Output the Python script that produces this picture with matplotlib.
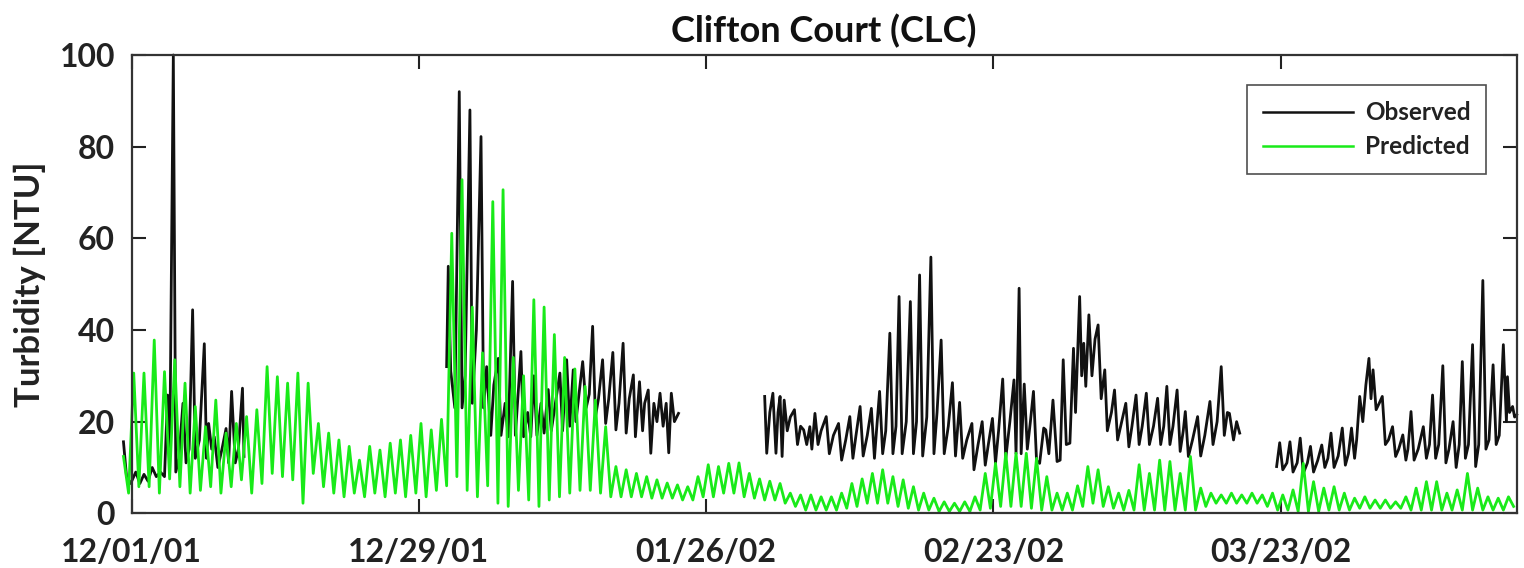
import numpy as np
import pandas as pd
import matplotlib
matplotlib.use("Agg")
import matplotlib.pyplot as plt
import matplotlib.dates as mdates

plt.rcParams['font.family'] = ['Lato', 'DejaVu Sans']
plt.rcParams['font.weight'] = 'bold'

start = pd.Timestamp("2001-12-01")

obs1_day = [-0.8, -0.5, -0.1, 0.4, 0.8, 1.2, 1.6, 2.0, 2.4, 2.8, 3.2, 3.5, 3.7, 4.06, 4.3, 4.6, 5.0, 5.3,
            5.6, 5.94, 6.2, 6.6, 7.08, 7.3, 7.5, 7.8, 8.05, 8.4, 8.8, 9.2, 9.45, 9.74, 10.1, 10.4, 10.8, 10.95]
obs1_val = [15.6, 8.0, 6.5, 9.0, 6.5, 8.5, 7.0, 10.0, 8.0, 9.0, 8.0, 25.8, 10.0, 100, 9.0, 12.0, 24.0, 11.0,
            14.0, 44.4, 12.0, 16.0, 37.0, 12.0, 19.6, 14.0, 16.7, 10.0, 14.0, 18.5, 11.0, 26.6, 11.0, 14.0, 27.3, 12.4]

obs2_day = [30.7, 30.86, 31.1, 31.5, 31.93, 32.2, 32.5, 32.97, 33.2, 33.6, 34.05, 34.3, 34.6, 35.0, 35.3,
            35.73, 36.0, 36.4, 36.7, 37.13, 37.4, 37.94, 38.2, 38.6, 38.9, 39.2, 39.5, 39.9, 40.2, 40.6,
            40.9, 41.3, 41.74, 42.0, 42.4, 42.7, 43.04, 43.3, 43.6, 43.96, 44.3, 44.6, 44.93, 45.2, 45.5,
            45.9, 46.2, 46.5, 46.9, 47.2, 47.5, 47.9, 48.2, 48.5, 48.9, 49.1, 49.5, 49.8, 50.0, 50.35,
            50.6, 50.9, 51.2, 51.5, 51.8, 52.1, 52.35, 52.6, 52.9, 53.3]
obs2_val = [32.0, 53.9, 31.0, 23.0, 92.0, 23.0, 30.0, 88.0, 24.0, 40.0, 82.2, 23.0, 32.0, 17.0, 28.0,
            33.8, 17.0, 24.0, 16.7, 50.6, 17.0, 35.3, 16.7, 22.0, 16.7, 30.0, 17.0, 24.0, 17.5, 27.0,
            18.0, 24.0, 30.6, 18.0, 33.5, 19.0, 31.3, 20.0, 26.0, 33.1, 23.0, 26.0, 40.8, 21.0, 25.0,
            33.5, 19.6, 25.0, 35.1, 18.2, 24.0, 37.1, 17.5, 25.0, 30.2, 16.7, 28.7, 18.0, 24.0, 26.9,
            13.1, 24.0, 20.0, 26.2, 19.0, 24.0, 13.2, 26.2, 20.0, 21.8]

obs3_day = [61.7, 61.9, 62.2, 62.5, 62.8, 63.0, 63.2, 63.4, 63.6, 63.9, 64.2, 64.6, 64.9, 65.2, 65.5,
            65.8, 66.1, 66.3, 66.6, 66.9, 67.2, 67.7, 68.0, 68.4, 68.9, 69.2, 69.6, 70.0, 70.3, 70.6,
            71.0, 71.3, 71.7, 72.1, 72.4, 72.6, 72.9, 73.2, 73.5, 73.9, 74.2, 74.5, 74.8, 75.1, 75.5,
            75.9, 76.2, 76.5, 76.8, 77.1, 77.5, 77.9, 78.2, 78.5, 78.9, 79.2, 79.6, 80.0, 80.3, 80.7,
            81.0, 81.4, 81.9, 82.1, 82.5, 82.9, 83.2, 83.5, 83.9, 84.2, 84.5, 84.9, 85.2, 85.6, 86.0,
            86.2, 86.5, 86.7, 87.0, 87.3, 87.6, 87.9, 88.2, 88.5, 88.9, 89.1, 89.4, 89.8, 90.2, 90.5,
            90.8, 91.1, 91.45, 91.8, 92.0, 92.4, 92.6, 92.8, 93.0, 93.3, 93.6, 93.9, 94.2, 94.5, 94.85,
            95.1, 95.5, 95.8, 96.1, 96.5, 96.9, 97.2, 97.5, 97.9, 98.2, 98.5, 98.9, 99.2, 99.6, 100.0,
            100.3, 100.6, 100.9, 101.2, 101.5, 101.9, 102.2, 102.5, 102.7, 103.0, 103.4, 103.9, 104.2,
            104.6, 105.1, 105.4, 105.8, 106.2, 106.5, 106.8, 107.0, 107.4, 107.7, 108.0]
obs3_val = [25.5, 13.1, 22.0, 26.2, 13.1, 22.0, 25.5, 12.4, 24.7, 18.0, 21.0, 22.6, 15.0, 19.0, 18.2,
            15.0, 18.9, 14.0, 21.8, 15.0, 18.0, 21.1, 13.0, 17.0, 19.6, 11.6, 16.0, 21.1, 12.0, 17.0,
            23.3, 12.5, 17.0, 22.9, 12.0, 18.0, 26.6, 13.0, 18.0, 39.3, 13.0, 19.0, 47.3, 13.0, 20.0,
            46.2, 13.0, 20.0, 52.0, 12.5, 21.0, 55.9, 13.0, 22.0, 37.8, 13.0, 19.0, 28.5, 12.5, 24.2,
            12.0, 16.0, 19.6, 9.5, 15.0, 20.0, 10.5, 15.0, 20.7, 11.0, 18.0, 29.3, 12.0, 20.0, 29.1,
            13.0, 49.1, 13.0, 28.2, 14.0, 20.0, 26.6, 11.5, 10.9, 18.6, 18.2, 13.0, 24.7, 11.3, 11.6,
            33.5, 15.0, 15.3, 36.0, 22.0, 47.3, 30.0, 37.1, 27.7, 43.3, 30.0, 38.0, 41.1, 25.0, 31.3,
            18.0, 22.0, 26.9, 16.0, 20.0, 24.0, 14.5, 19.0, 25.8, 15.0, 19.0, 26.2, 15.0, 19.0, 25.1,
            15.0, 19.0, 27.7, 15.0, 19.0, 26.9, 13.5, 18.0, 22.2, 12.4, 16.0, 21.1, 12.5,
            17.0, 24.4, 15.0, 20.0, 32.0, 17.0, 22.0, 21.8, 16.0, 20.0, 17.5]

obs4_day = [111.6, 111.9, 112.2, 112.6, 112.9, 113.2, 113.6, 113.9, 114.2, 114.6, 114.9, 115.2, 115.6,
            116.0, 116.3, 116.6, 116.9, 117.2, 117.6, 118.0, 118.3, 118.6, 118.9, 119.2, 119.4, 119.7,
            120.0, 120.3, 120.6, 120.8, 121.0, 121.3, 121.6, 121.9, 122.2, 122.5, 122.9, 123.2, 123.5,
            123.9, 124.2, 124.4, 124.7, 125.0, 125.4, 125.9, 126.2, 126.5, 126.8, 127.1, 127.4, 127.8,
            128.1, 128.4, 128.8, 129.1, 129.4, 129.7, 130.0, 130.3, 130.7, 131.0, 131.3, 131.7, 132.0,
            132.3, 132.7, 133.0, 133.3, 133.7, 134.0, 134.1, 134.3, 134.6, 134.8, 135.0]
obs4_val = [10.2, 15.4, 9.5, 11.0, 15.6, 9.0, 11.0, 16.4, 8.7, 11.0, 14.6, 9.0, 11.5,
            14.9, 10.0, 12.0, 17.5, 10.0, 12.5, 18.6, 10.5, 13.0, 18.6, 12.0, 16.0, 25.5,
            20.0, 28.0, 33.8, 25.0, 31.3, 22.6, 24.0, 25.5, 15.0, 16.0, 18.9, 12.4, 14.0,
            17.1, 11.6, 14.0, 22.2, 11.6, 14.0, 18.9, 12.0, 15.0, 25.8, 12.0, 15.0, 32.2,
            11.0, 14.0, 20.0, 10.0, 15.0, 33.1, 12.0, 15.0, 36.8, 10.2, 15.0, 50.8, 14.0,
            16.0, 32.4, 15.0, 17.0, 36.8, 20.0, 29.8, 22.0, 23.3, 21.0, 21.5]

# predicted turbidity: one tidal high and one low per day, first high at day -0.8
pred_peak = [12.4, 30.6, 30.6, 37.8, 30.9, 33.5, 28.4, 23.3, 18.9, 24.7, 17.5, 19.6, 21.1, 22.6,
             32.0, 29.8, 28.4, 30.6, 28.4, 19.6, 17.5, 16.0, 14.6, 11.6, 14.6, 13.8, 15.3, 16.0,
             17.0, 19.6, 18.2, 20.5, 61.1, 72.8, 45.0, 35.0, 68.0, 70.6, 34.0, 30.0, 46.6, 45.0,
             39.0, 34.0, 31.5, 27.7, 24.7, 18.9, 10.2, 9.5, 8.7, 8.0, 7.3, 6.6, 6.2, 5.8,
             8.0, 10.6, 10.2, 10.9, 11.0, 8.7, 7.5, 7.0, 6.5, 4.4, 4.0, 4.0, 3.6, 3.6,
             4.4, 6.5, 7.5, 8.7, 9.5, 8.0, 7.3, 5.8, 4.4, 3.3, 2.5, 2.2, 2.5, 3.6,
             8.7, 10.9, 13.1, 13.1, 13.1, 12.0, 8.0, 4.4, 4.4, 6.0, 10.2, 9.5, 5.8, 4.4,
             5.0, 10.6, 8.7, 11.6, 11.3, 8.7, 12.4, 5.5, 4.4, 4.0, 4.4, 4.0, 4.4, 4.0,
             4.4, 4.0, 5.1, 10.9, 6.9, 5.5, 5.8, 4.4, 3.3, 3.6, 2.9, 2.9, 2.5, 3.6,
             5.5, 6.9, 6.9, 4.4, 5.1, 8.7, 5.5, 3.6, 3.3, 3.6]
pred_trough = [4.4, 5.8, 5.8, 4.4, 7.5, 5.8, 4.4, 5.0, 5.8, 4.4, 5.8, 7.3, 4.4, 6.5,
               8.7, 8.0, 7.3, 2.2, 8.7, 5.8, 4.4, 3.6, 4.4, 3.6, 4.4, 3.6, 4.4, 3.6,
               4.4, 3.6, 5.0, 6.0, 8.0, 5.0, 3.6, 6.0, 2.2, 1.5, 5.0, 2.9, 1.5, 2.9,
               3.6, 4.4, 5.0, 5.0, 4.4, 3.6, 3.6, 3.6, 3.6, 3.3, 3.3, 3.3, 2.9, 2.9,
               3.6, 3.6, 4.4, 4.4, 3.6, 3.3, 2.9, 2.9, 2.2, 1.5, 0.7, 0.7, 0.7, 0.7,
               1.1, 1.5, 2.2, 2.2, 2.2, 1.5, 1.1, 0.7, 0.7, 0.4, 0.4, 0.4, 0.4, 0.7,
               1.1, 1.5, 1.5, 1.5, 1.1, 0.7, 0.7, 0.7, 0.7, 1.5, 2.2, 1.5, 1.1, 0.7,
               0.7, 0.7, 0.7, 0.7, 0.7, 0.7, 0.7, 1.5, 2.2, 2.2, 2.2, 2.2, 2.2, 1.5,
               0.7, 0.7, 0.4, 0.4, 0.4, 0.7, 0.7, 0.7, 1.1, 1.1, 1.1, 1.1, 1.1, 0.7,
               0.7, 0.7, 0.7, 0.7, 0.7, 0.7, 0.7, 0.7, 0.7, 1.5]

tick_days = [0, 28, 56, 84, 112]
y_ticks = [0, 20, 40, 60, 80, 100]

# stitch observed stretches with gaps
obs_d, obs_v = [], []
for d, v in [(obs1_day, obs1_val), (obs2_day, obs2_val), (obs3_day, obs3_val), (obs4_day, obs4_val)]:
    obs_d += d + [d[-1] + 0.1]
    obs_v += v + [np.nan]
obs_t = start + pd.to_timedelta(obs_d, unit="D")

# predicted: interleave highs and lows on a half-day time base
pred_d = np.empty(2 * len(pred_peak))
pred_v = np.empty(2 * len(pred_peak))
pred_d[0::2] = np.arange(len(pred_peak)) - 0.8
pred_d[1::2] = np.arange(len(pred_trough)) - 0.3
pred_v[0::2] = pred_peak
pred_v[1::2] = pred_trough
pred_t = start + pd.to_timedelta(pred_d, unit="D")

fig = plt.figure(figsize=(15.24, 5.68), dpi=100)
ax = fig.add_axes([0.0864, 0.0963, 0.9088, 0.8069])

ax.plot(obs_t, obs_v, color='#111111', lw=2.0, label='Observed', clip_on=False)
ax.plot(pred_t, pred_v, color='#19ea19', lw=2.0, label='Predicted', clip_on=False)

ax.set_xlim(start, start + pd.Timedelta(days=135))
ax.set_ylim(0, 100)
ax.set_xticks(start + pd.to_timedelta(tick_days, unit="D"))
ax.xaxis.set_major_formatter(mdates.DateFormatter('%m/%d/%y'))
ax.set_yticks(y_ticks)

ax.tick_params(direction='in', length=10, width=1.5, top=True, right=True,
               labelsize=23, colors='#222222')
ax.tick_params(axis='x', pad=18)
ax.tick_params(axis='y', pad=12)
for s in ax.spines.values():
    s.set_linewidth(1.6)
    s.set_color('#333333')

ax.set_ylabel('Turbidity [NTU]', fontsize=25, fontweight='bold', color='#222222', labelpad=10)
ax.set_title('Clifton Court (CLC)', fontsize=26, fontweight='bold', color='#111111', pad=9)

leg = ax.legend(loc='upper right', fontsize=17.5, frameon=True, fancybox=False, handlelength=3.7,
                handletextpad=0.5, labelspacing=0.45, borderaxespad=1.25, borderpad=0.65)
leg.get_frame().set_edgecolor('#222222')
leg.get_frame().set_linewidth(1.2)
for t in leg.get_texts():
    t.set_fontweight('bold')
    t.set_color('#222222')
for h in leg.get_lines():
    h.set_linewidth(1.8)

fig.savefig('out.png', dpi=100)
